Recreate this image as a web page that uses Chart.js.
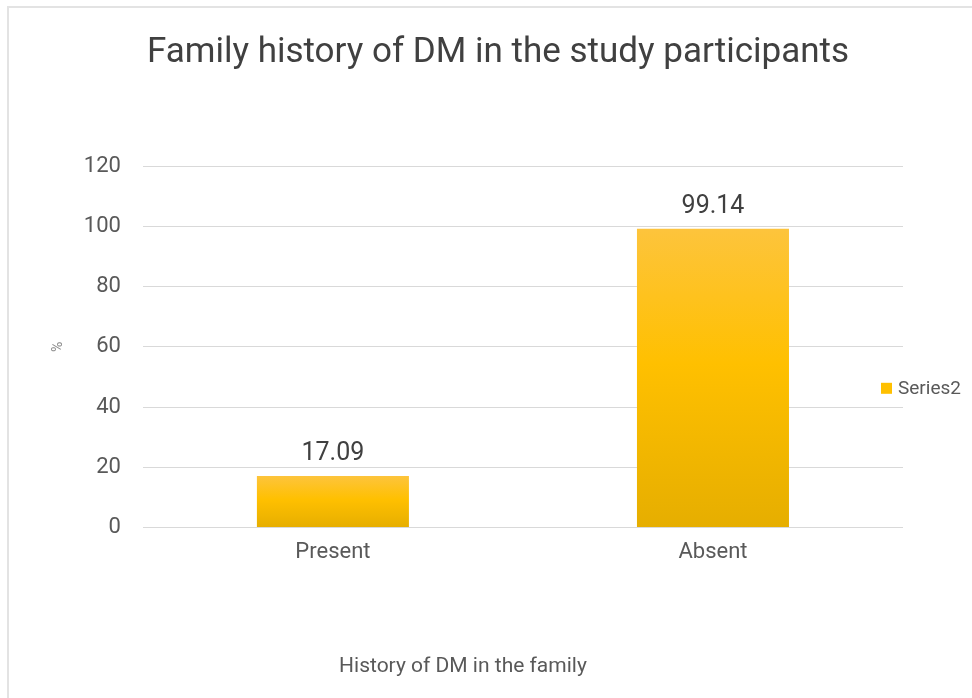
<!DOCTYPE html>
<html>
<head>
<meta charset="utf-8">
<script src="https://cdn.jsdelivr.net/npm/chart.js@4"></script>
<style>
  html, body { margin: 0; padding: 0; background: #fff; }
  #wrap { position: relative; width: 972px; height: 698px; }
  #frame { position: absolute; left: 7px; top: 6px; right: -4px; bottom: -4px;
           border-left: 2px solid #e3e3e3; border-top: 2px solid #e3e3e3; pointer-events: none; }
</style>
</head>
<body>
<div id="wrap">
  <canvas id="chart" width="972" height="698"></canvas>
  <div id="frame"></div>
</div>
<script>
// --- chart data
const chartTitle = "Family history of DM in the study participants";
const xTitle = "History of DM in the family";
const categories = ["Present", "Absent"];
const seriesName = "Series2";
const seriesValues = [17.09, 99.14];
const yTicks = [0, 20, 40, 60, 80, 100, 120];

const FONT = "Roboto";
const TEXT = "#595959";

// vertical gradient per bar, from its own top to the baseline
function barFill(ctx) {
  const chart = ctx.chart;
  const y = chart.scales.y;
  if (!chart.chartArea || !y || ctx.raw == null) return "#FFC000";
  const top = y.getPixelForValue(ctx.raw);
  const base = y.getPixelForValue(0);
  const g = chart.ctx.createLinearGradient(0, top, 0, base);
  g.addColorStop(0, "#FDC43C");
  g.addColorStop(0.45, "#FFC000");
  g.addColorStop(1, "#E6AE00");
  return g;
}

// value labels above the bars
const valueLabels = {
  id: "valueLabels",
  afterDatasetsDraw(chart) {
    const c = chart.ctx;
    const meta = chart.getDatasetMeta(0);
    c.save();
    c.font = `25px ${FONT}`;
    c.fillStyle = "#404040";
    c.textAlign = "center";
    c.textBaseline = "bottom";
    meta.data.forEach((bar, i) => {
      c.fillText(seriesValues[i].toFixed(2), bar.x, bar.y - 10);
    });
    c.restore();
  }
};

// titles and legend placed like the original (off-centre)
const extraText = {
  id: "extraText",
  afterDraw(chart) {
    const c = chart.ctx;
    const area = chart.chartArea;
    const mid = (area.left + area.right) / 2;
    c.save();
    c.textBaseline = "middle";
    c.textAlign = "center";
    c.fillStyle = "#404040";
    c.font = `35px ${FONT}`;
    c.fillText(chartTitle, mid - 25, 53);
    c.fillStyle = TEXT;
    c.font = `21px ${FONT}`;
    c.fillText(xTitle, mid - 60, 667);

    const yMid = (area.top + area.bottom) / 2 + 41;
    const x = area.right - 22;
    c.fillStyle = "#FFC000";
    c.fillRect(x, yMid - 5, 11, 11);
    c.font = `19px ${FONT}`;
    c.fillStyle = TEXT;
    c.textAlign = "left";
    c.fillText(seriesName, x + 17, yMid + 1);
    c.restore();
  }
};

new Chart(document.getElementById("chart").getContext("2d"), {
  type: "bar",
  data: {
    labels: categories,
    datasets: [{
      label: seriesName,
      data: seriesValues,
      backgroundColor: barFill,
      borderWidth: 0,
      barPercentage: 0.4,
      categoryPercentage: 1
    }]
  },
  options: {
    responsive: false,
    animation: false,
    layout: { padding: { left: 0, right: 69, top: 166, bottom: 120 } },
    plugins: {
      legend: { display: false },
      tooltip: { enabled: false },
      title: { display: false }
    },
    scales: {
      x: {
        grid: { display: false, drawTicks: false },
        border: { display: false },
        ticks: { color: TEXT, font: { family: FONT, size: 22 }, padding: 12 }
      },
      y: {
        min: 0,
        max: 120,
        afterBuildTicks(scale) { scale.ticks = yTicks.map(v => ({ value: v })); },
        grid: { color: "#d9d9d9", lineWidth: 1, drawTicks: false },
        border: { display: false },
        ticks: { color: TEXT, font: { family: FONT, size: 22 }, padding: 22 },
        title: {
          display: true,
          text: "%",
          color: "#8a8a8a",
          font: { family: FONT, size: 14 },
          padding: { top: 50, bottom: -5 }
        }
      }
    }
  },
  plugins: [valueLabels, extraText]
});
</script>
</body>
</html>
